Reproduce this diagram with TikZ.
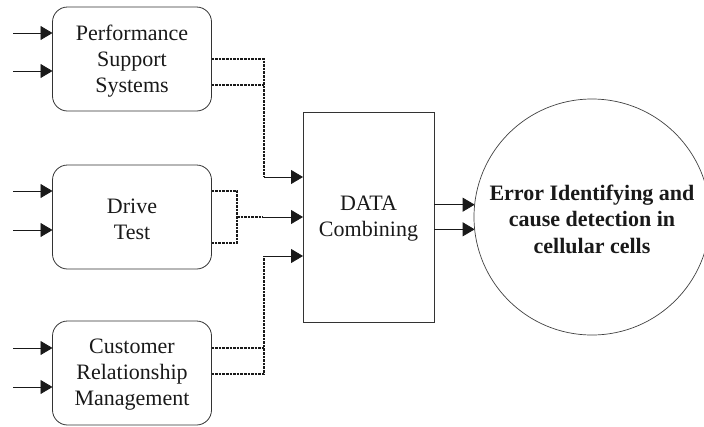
\documentclass[tikz,border=0pt]{standalone}
\usepackage{fontspec}
\setmainfont{Liberation Serif}
\usetikzlibrary{arrows.meta,shapes.geometric}

\tikzset{
  every node/.style={font=\fontsize{22}{26}\selectfont, align=center, text=black!90},
  srcbox/.style={draw=black!80, line width=0.8pt, rounded corners=15pt,
                 minimum width=159pt, minimum height=104pt, inner sep=0pt, outer sep=0pt},
  combbox/.style={draw=black!80, line width=0.8pt,
                  minimum width=131pt, minimum height=210pt, inner sep=0pt, outer sep=0pt},
  goalnode/.style={draw=black!75, line width=0.7pt, circle, minimum size=236pt,
                   inner sep=0pt, outer sep=0pt, font=\fontsize{22}{26.5}\selectfont\bfseries},
  arr/.style={draw=black!90, line width=0.8pt, -{Triangle[length=12pt,width=14pt]}},
  dline/.style={draw=black!90, line width=1.4pt, dash pattern=on 2.6pt off 1pt},
  lbl/.style={yshift=-2pt},
}

\begin{document}
\begin{tikzpicture}[x=1pt,y=-1pt]
  \useasboundingbox (0,0) rectangle (704,426);

  % source blocks
  \node[srcbox] (pss)   at (132,59)  {};
  \node[srcbox] (drive) at (132,217) {};
  \node[srcbox] (crm)   at (132,373) {};
  \node[lbl] (psst) at (pss)   {Performance\\Support\\Systems};
  \node[lbl] (drvt) at (drive) {Drive\\Test};
  \node[lbl] (crmt) at (crm)   {Customer\\Relationship\\Management};

  % combining block and result
  \node[combbox] (data) at (368.5,217) {};
  \node[lbl] (datat) at (data) {DATA\\Combining};
  \node[goalnode] (err) at (592,217) {};
  \node[lbl, font=\fontsize{22}{26.5}\selectfont\bfseries] (errt) at (err)
       {Error Identifying and\\cause detection in\\cellular cells};

  % free ends of the input arrows
  \coordinate (a1) at (13,33);
  \coordinate (a2) at (13,71);
  \coordinate (b1) at (13,191);
  \coordinate (b2) at (13,230);
  \coordinate (c1) at (13,348);
  \coordinate (c2) at (13,387);

  \draw[arr] (a1) -- (a1 -| pss.west);
  \draw[arr] (a2) -- (a2 -| pss.west);
  \draw[arr] (b1) -- (b1 -| drive.west);
  \draw[arr] (b2) -- (b2 -| drive.west);
  \draw[arr] (c1) -- (c1 -| crm.west);
  \draw[arr] (c2) -- (c2 -| crm.west);

  % junction points of the collector lines
  \coordinate (jA1) at (264,59);
  \coordinate (jA2) at (264,85);
  \coordinate (jA3) at (264,177);
  \coordinate (jB1) at (237,191);
  \coordinate (jB2) at (237,243);
  \coordinate (jB3) at (237,217);
  \coordinate (jB4) at (263,217);
  \coordinate (jC1) at (264,348);
  \coordinate (jC2) at (264,374);
  \coordinate (jC3) at (264,256);

  % Performance Support Systems -> DATA
  \draw[dline] (pss.east |- jA1) -- (jA1) -- (jA3);
  \draw[dline] (pss.east |- jA2) -- (jA2);
  \draw[arr] (jA3) -- (jA3 -| data.west);

  % Drive Test -> DATA
  \draw[dline] (drive.east |- jB1) -- (jB1) -- (jB2) -- (drive.east |- jB2);
  \draw[dline] (jB3) -- (jB4);
  \draw[arr] (jB4) -- (jB4 -| data.west);

  % Customer Relationship Management -> DATA
  \draw[dline] (crm.east |- jC2) -- (jC2) -- (jC3);
  \draw[dline] (crm.east |- jC1) -- (jC1);
  \draw[arr] (jC3) -- (jC3 -| data.west);

  % DATA -> result
  \draw[arr] (data.east |- err.174) -- (err.174);
  \draw[arr] (data.east |- err.186) -- (err.186);
\end{tikzpicture}
\end{document}
